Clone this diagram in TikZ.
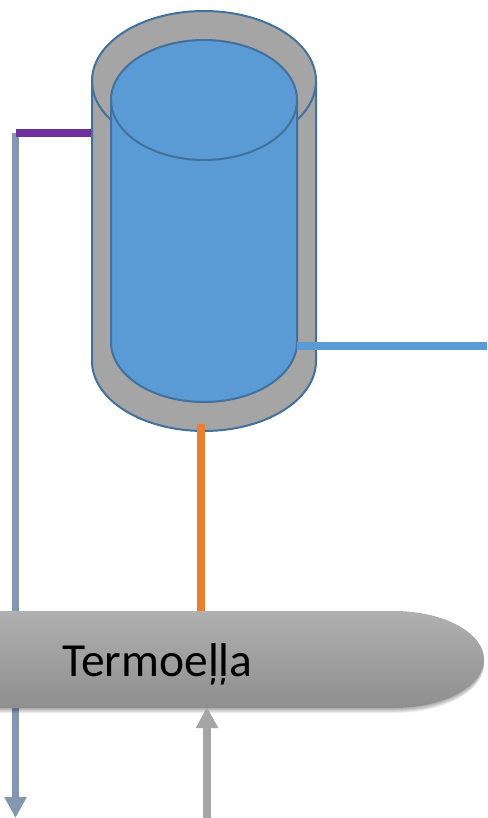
\documentclass[tikz,border=0pt]{standalone}
\usepackage{fontspec}
\setmainfont{Carlito}
\usetikzlibrary{arrows.meta,calc,positioning}
\definecolor{tankline}{HTML}{41719C}
\definecolor{jacket}{HTML}{A5A5A5}
\definecolor{water}{HTML}{5B9BD5}
\definecolor{flue}{HTML}{8497B0}
\definecolor{hotpipe}{HTML}{ED7D31}
\definecolor{purplepipe}{HTML}{7030A0}
\tikzset{tankpart/.style={draw=tankline,line width=2pt},pipe/.style={line width=8pt},flowarrow/.style={line width=7.5pt,-{Triangle[length=21pt,width=21pt]}},burnerlabel/.style={font=\fontsize{47.5}{50}\selectfont,anchor=base west,inner sep=0pt}}
\begin{document}
\begin{tikzpicture}[x=1pt,y=-1pt]
\useasboundingbox (0,0) rectangle (487,818);
\coordinate (fluebend) at (15.5,133);
\coordinate (flueend) at (15.5,818);
\coordinate (outleft) at (92,133);
\coordinate (hotout) at (297,346);
\coordinate (hotend) at (487,346);
\coordinate (tankbottom) at (201,424);
\coordinate (burnertop) at (201,612);
\coordinate (airstart) at (207,818);
\coordinate (airend) at (207,707);
% pipes behind everything
\draw[flowarrow,flue] (fluebend)--(flueend);
\draw[pipe,purplepipe] (fluebend)--(outleft);
% outer jacket
\filldraw[tankpart,fill=jacket] (92,81)--(92,361) arc[start angle=180,end angle=0,x radius=112,y radius=70]--(316,81) arc[start angle=0,end angle=-180,x radius=112,y radius=70]--cycle;
\draw[tankpart] (92,81) arc[start angle=180,end angle=0,x radius=112,y radius=70];
% inner tank
\filldraw[tankpart,fill=water] (111,100)--(111,342) arc[start angle=180,end angle=0,x radius=93,y radius=60]--(297,100) arc[start angle=0,end angle=-180,x radius=93,y radius=60]--cycle;
\draw[tankpart] (111,100) arc[start angle=180,end angle=0,x radius=93,y radius=60];
\draw[pipe,water] (hotout)--(hotend);
\draw[pipe,hotpipe] (tankbottom)--(burnertop);
% burner
\foreach \d in {1,2,3,4,5} {
  \fill[black,opacity=.07] (-10,611+\d)--(394,611+\d) arc[start angle=-90,end angle=90,x radius=90,y radius=48.5]--(-10,708+\d)--cycle;}
\shade[top color=black!31,middle color=black!34,bottom color=black!44] (-10,611)--(394,611) arc[start angle=-90,end angle=90,x radius=90,y radius=48.5]--(-10,708)--cycle;
\node[burnerlabel] (termoella) at (62,676) {Termoeļļa};
\draw[flowarrow,jacket] (airstart)--(airend);
\end{tikzpicture}
\end{document}
